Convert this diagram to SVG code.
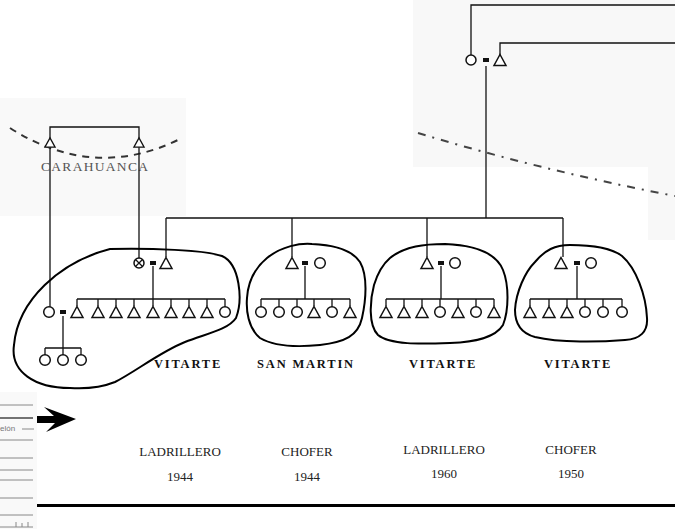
<svg xmlns="http://www.w3.org/2000/svg" width="675" height="529" viewBox="0 0 675 529">
<style>
.ln{fill:none;stroke:#111;stroke-width:1.3}
.blob{fill:none;stroke:#000;stroke-width:2}
.tri{fill:#fff;stroke:#111;stroke-width:1.5;stroke-linejoin:miter}
.cir{fill:#fff;stroke:#111;stroke-width:1.5}
.eq{fill:#111}
.place{font-family:"Liberation Serif",serif;font-weight:bold;font-size:12.5px;letter-spacing:1.8px;fill:#111;text-anchor:middle}
.job{font-family:"Liberation Serif",serif;font-size:13px;fill:#222;text-anchor:middle}
.scan{font-family:"Liberation Serif",serif;font-size:13.5px;fill:#555;letter-spacing:1.3px}
</style>
<defs>
<path id="t" d="M0,-5.5 L6,5.5 L-6,5.5 Z"/>
</defs>
<rect width="675" height="529" fill="#fff"/>
<!-- scanned backgrounds -->
<rect x="0" y="98" width="186" height="118" fill="#f9f9f9"/>
<path d="M413,0 H675 V240 H648 V167 H413 Z" fill="#f8f8f8"/>
<rect x="0" y="392" width="37" height="137" fill="#f9f9f9"/>

<g id="scan-lines" stroke="#888" stroke-width="1">
<line x1="0" y1="405" x2="33" y2="405"/>
<line x1="0" y1="418" x2="33" y2="418" stroke="#444" stroke-width="1.6"/>
<line x1="22" y1="429" x2="34" y2="429"/>
<line x1="0" y1="440" x2="33" y2="440"/>
<line x1="0" y1="458" x2="33" y2="458"/>
<line x1="0" y1="470" x2="33" y2="470"/>
<line x1="0" y1="480" x2="33" y2="480"/>
<line x1="0" y1="498" x2="33" y2="498"/>
<line x1="0" y1="515" x2="33" y2="515"/>
<path d="M0,527 H33 M16,522 V527 M22,523 V527 M28,522 V527" />
</g>
<text x="0" y="431" font-family="Liberation Sans,sans-serif" font-size="8" fill="#777">elón</text>

<!-- dashed boundaries -->
<path d="M10,128 Q95,182 182,138" fill="none" stroke="#333" stroke-width="2" stroke-dasharray="7 6"/>
<path d="M418,133 Q540,170 675,196" fill="none" stroke="#444" stroke-width="2" stroke-dasharray="8 7 2 7"/>
<text class="scan" x="41" y="171">CARAHUANCA</text>

<!-- connectors -->
<g id="connectors" class="ln">
<path d="M50,138 V127 H139 V138"/>
<path d="M50,147 V307"/>
<path d="M139,147 V258"/>
<path d="M471,55 V5 H675"/>
<path d="M500,55 V43 H675"/>
<path d="M486,66 V218"/>
<path d="M166,218 H563"/>
<path d="M166,218 V257"/>
<path d="M292,218 V257"/>
<path d="M427,218 V257"/>
<path d="M563,218 V257"/>
<path d="M153,266 V299 M77,299 H225 M77,299 V306 M98,299 V306 M116,299 V306 M134,299 V306 M153,299 V306 M171,299 V306 M189,299 V306 M207,299 V306 M225,299 V307"/>
<path d="M63,316 V348 M45,348 H81 M45,348 V355 M63,348 V355 M81,348 V355"/>
<path d="M305,266 V299 M261,299 H350 M261,299 V307 M279,299 V307 M297,299 V307 M314,299 V306 M332,299 V307 M350,299 V306"/>
<path d="M441,266 V299 M386,299 H494 M386,299 V306 M404,299 V306 M422,299 V306 M440,299 V307 M458,299 V306 M476,299 V307 M494,299 V306"/>
<path d="M577,266 V299 M530,299 H622 M530,299 V306 M549,299 V306 M567,299 V306 M585,299 V307 M603,299 V307 M622,299 V307"/>
</g>

<g id="carahuanca">
<use href="#t" class="tri" transform="translate(50,142.5) scale(0.85)"/>
<use href="#t" class="tri" transform="translate(139,142.5) scale(0.85)"/>
</g>

<g id="top-couple">
<circle class="cir" cx="471" cy="60" r="5"/>
<rect class="eq" x="483" y="58" width="6" height="4"/>
<use href="#t" class="tri" x="500" y="60"/>
</g>

<g id="cluster-1">
<path class="blob" d="M110,249 C150,248 205,250 222,256 C240,264 243,300 236,318 C228,330 205,334 185,342 C160,352 135,372 115,382 C100,388 85,389 70,388 C35,388 10,372 14,345 C18,300 60,262 110,249 Z"/>
<circle class="cir" cx="139" cy="263" r="5"/>
<path d="M135.5,259.5 L142.5,266.5 M142.5,259.5 L135.5,266.5" stroke="#111" stroke-width="1.3"/>
<rect class="eq" x="150" y="261" width="6" height="4"/>
<use href="#t" class="tri" x="166" y="263"/>
<circle class="cir" cx="49" cy="312" r="5.3"/>
<rect class="eq" x="60" y="310" width="6" height="4"/>
<use href="#t" class="tri" x="77" y="312"/>
<use href="#t" class="tri" x="98" y="312"/>
<use href="#t" class="tri" x="116" y="312"/>
<use href="#t" class="tri" x="134" y="312"/>
<use href="#t" class="tri" x="153" y="312"/>
<use href="#t" class="tri" x="171" y="312"/>
<use href="#t" class="tri" x="189" y="312"/>
<use href="#t" class="tri" x="207" y="312"/>
<circle class="cir" cx="225" cy="312" r="5.3"/>
<circle class="cir" cx="45" cy="360" r="5.3"/>
<circle class="cir" cx="63" cy="360" r="5.3"/>
<circle class="cir" cx="81" cy="360" r="5.3"/>
<text class="place" x="188" y="368">VITARTE</text>
</g>

<g id="cluster-2">
<path class="blob" d="M267,258 C282,246 300,243 312,244 C335,245 352,250 360,262 C368,276 366,300 362,318 C358,336 345,342 320,345 C300,347 275,347 260,338 C248,328 246,310 247,298 C248,282 255,268 267,258 Z"/>
<use href="#t" class="tri" x="292" y="263"/>
<rect class="eq" x="302" y="261" width="6" height="4"/>
<circle class="cir" cx="320" cy="263" r="5.3"/>
<circle class="cir" cx="261" cy="312" r="5.3"/>
<circle class="cir" cx="279" cy="312" r="5.3"/>
<circle class="cir" cx="297" cy="312" r="5.3"/>
<use href="#t" class="tri" x="314" y="312"/>
<circle class="cir" cx="332" cy="312" r="5.3"/>
<use href="#t" class="tri" x="350" y="312"/>
<text class="place" x="306" y="368">SAN MARTIN</text>
</g>

<g id="cluster-3">
<path class="blob" d="M390,258 C405,246 425,244 445,244 C470,245 495,250 503,270 C509,285 509,310 503,325 C495,338 475,342 450,343 C420,344 390,345 378,335 C368,325 370,300 374,285 C378,272 383,264 390,258 Z"/>
<use href="#t" class="tri" x="427" y="263"/>
<rect class="eq" x="438" y="261" width="6" height="4"/>
<circle class="cir" cx="455" cy="263" r="5.3"/>
<use href="#t" class="tri" x="386" y="312"/>
<use href="#t" class="tri" x="404" y="312"/>
<use href="#t" class="tri" x="422" y="312"/>
<circle class="cir" cx="440" cy="312" r="5.3"/>
<use href="#t" class="tri" x="458" y="312"/>
<circle class="cir" cx="476" cy="312" r="5.3"/>
<use href="#t" class="tri" x="494" y="312"/>
<text class="place" x="443" y="368">VITARTE</text>
</g>

<g id="cluster-4">
<path class="blob" d="M535,262 C545,250 555,245 570,245 C590,245 610,247 622,256 C636,268 646,295 647,318 C648,332 640,339 625,340 C600,342 560,343 535,337 C520,333 515,322 515,310 C516,292 525,272 535,262 Z"/>
<use href="#t" class="tri" x="561" y="263"/>
<rect class="eq" x="574" y="261" width="6" height="4"/>
<circle class="cir" cx="591" cy="263" r="5.3"/>
<use href="#t" class="tri" x="530" y="312"/>
<use href="#t" class="tri" x="549" y="312"/>
<use href="#t" class="tri" x="567" y="312"/>
<circle class="cir" cx="585" cy="312" r="5.3"/>
<circle class="cir" cx="603" cy="312" r="5.3"/>
<circle class="cir" cx="622" cy="312" r="5.3"/>
<text class="place" x="578" y="368">VITARTE</text>
</g>

<path d="M37,416 L54,416 L44,407 L76,419 L46,432 L55,423 L37,423 Z" fill="#000"/>

<g id="labels">
<text class="job" x="180" y="456">LADRILLERO</text>
<text class="job" x="180" y="481">1944</text>
<text class="job" x="307" y="456" font-size="12">CHOFER</text>
<text class="job" x="307" y="481">1944</text>
<text class="job" x="444" y="454">LADRILLERO</text>
<text class="job" x="444" y="478">1960</text>
<text class="job" x="571" y="454">CHOFER</text>
<text class="job" x="571" y="478">1950</text>
</g>
<line x1="37" y1="505.5" x2="675" y2="505.5" stroke="#000" stroke-width="3"/>
</svg>
